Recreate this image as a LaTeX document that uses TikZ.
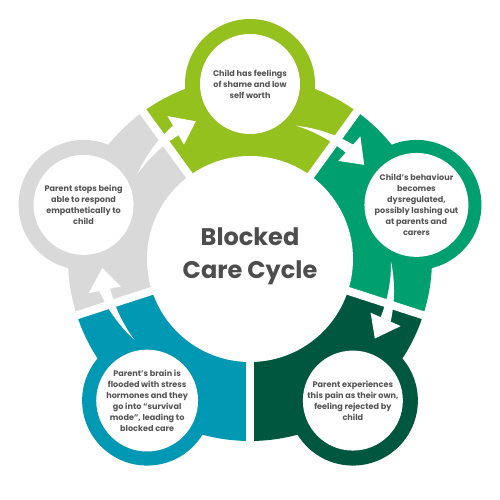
\documentclass[tikz,border=0pt]{standalone}
\usepackage{fontspec}
\setmainfont{Poppins}
\usetikzlibrary{calc}
\definecolor{seglime}{RGB}{149,193,31}
\definecolor{segmid}{RGB}{0,160,110}
\definecolor{segdark}{RGB}{0,87,63}
\definecolor{segteal}{RGB}{0,152,178}
\definecolor{seggrey}{RGB}{217,217,217}
\definecolor{txtgrey}{RGB}{85,85,85}
\definecolor{titlegrey}{RGB}{77,77,77}
\tikzset{
  bubble/.style={circle, fill=white, minimum size=100pt, inner sep=0pt, align=center,
    font=\fontsize{8.1}{11}\selectfont\bfseries, text=txtgrey},
  hubnode/.style={circle, fill=white, minimum size=206pt, inner sep=0pt},
  titletext/.style={align=center, font=\fontsize{24}{33}\selectfont\bfseries, text=titlegrey},
  gapline/.style={white, line width=8pt},
  arrowfill/.style={fill=white}
}
\begin{document}
\begin{tikzpicture}[x=1pt,y=1pt]
\useasboundingbox (0,0) rectangle (500,500);
\coordinate (C) at (250,241);
\begin{scope}[shift={(C)}]
  % coloured segments with their bubbles
  \foreach \m/\col in {90/seglime,18/segmid,-54/segdark,-126/segteal,-198/seggrey}{
    \fill[\col] (0,0) -- (\m+36:182) arc[start angle=\m+36, end angle=\m-36, radius=182] -- cycle;
    \fill[\col] (\m:175) circle[radius=65];
  }
  % white gaps between segments
  \foreach \b in {54,-18,-90,-162,126}{
    \draw[gapline] (\b:95) -- (\b:190);
  }
  % central hub
  \node[hubnode] (hub) at (0,0) {};
  \node[titletext] (title) at (0,3) {Blocked\\Care Cycle};
  % bubbles
  \node[bubble] (b1) at (90:175) {Child has feelings\\of shame and low\\self worth};
  \node[bubble] (b2) at (18:175) {Child’s behaviour\\becomes\\dysregulated,\\possibly lashing out\\at parents and\\carers};
  \node[bubble] (b3) at (-54:175) {Parent experiences\\this pain as their own,\\feeling rejected by\\child};
  \node[bubble] (b4) at (-126:175) {Parent’s brain is\\flooded with stress\\hormones and they\\go into “survival\\mode”, leading to\\blocked care};
  \node[bubble] (b5) at (162:175) {Parent stops being\\able to respond\\empathetically to\\child};
  % curved arrows across the gaps
  \foreach \b in {54,-18,198,126}{
    \fill[arrowfill] plot[domain=0:1, samples=30] ({\b+17-23*\x}:{141+13*\x})
      -- plot[domain=1:0, samples=30] ({\b+17-23*\x}:{141+2*\x}) -- cycle;
    \fill[arrowfill] (\b-6:132) -- (\b-6:165) -- (\b-14.5:148) -- cycle;
  }
\end{scope}
\end{tikzpicture}
\end{document}
